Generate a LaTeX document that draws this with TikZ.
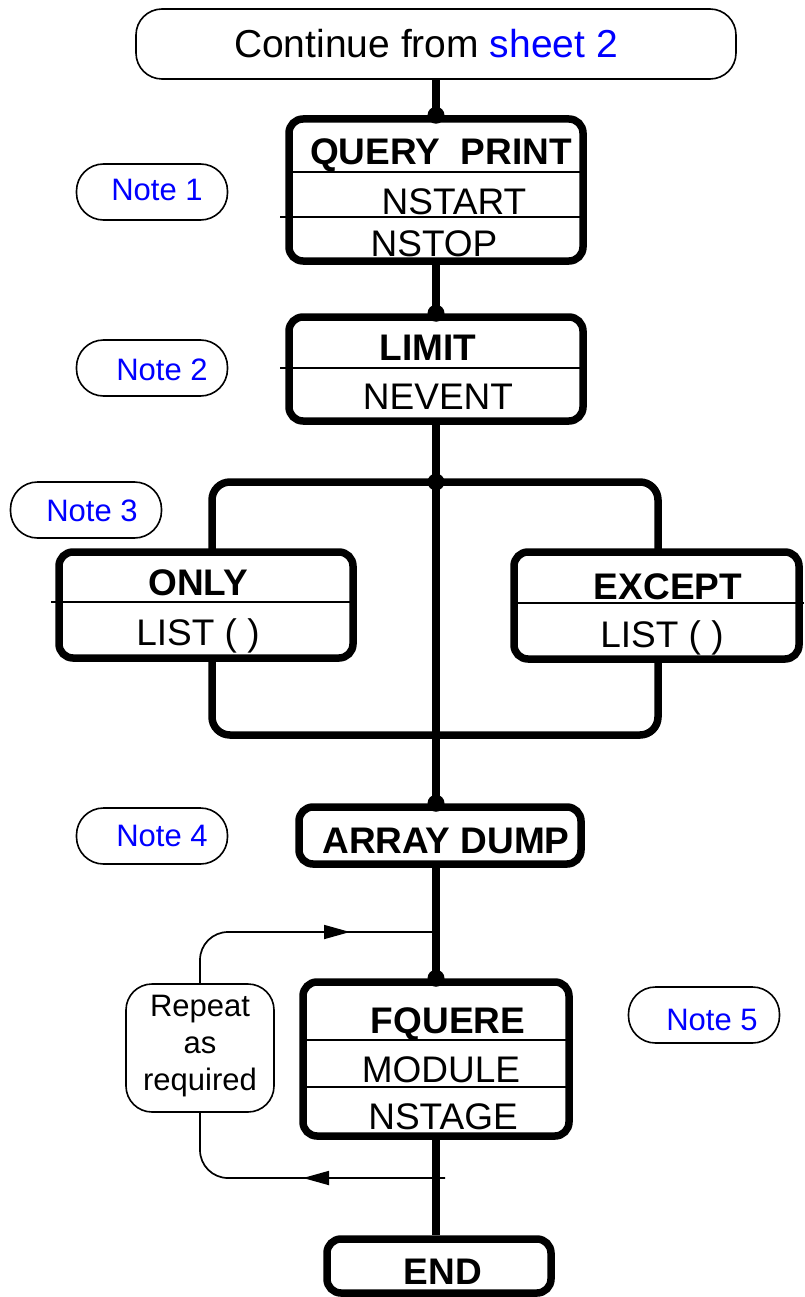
\documentclass[tikz,border=0pt]{standalone}
\usepackage{fontspec}
\setmainfont{Liberation Sans}
\usetikzlibrary{arrows.meta,decorations.markings,calc}
\begin{document}
\begin{tikzpicture}[x=1pt,y=-1pt,
  flowbox/.style={draw, line width=7.5pt, rounded corners=14pt, fill=white, inner sep=0pt},
  termbox/.style={draw, line width=1.6pt, rounded corners=26pt, fill=white, inner sep=0pt},
  notebox/.style={draw, line width=1.6pt, rounded corners=27pt, inner sep=0pt,
                  minimum width=151pt, minimum height=56pt},
  bigtxt/.style={inner sep=0pt, font=\fontsize{37}{40}\selectfont},
  boldtxt/.style={inner sep=0pt, font=\fontsize{37}{40}\selectfont\bfseries},
  notetxt/.style={inner sep=0pt, text=blue, font=\fontsize{31}{34}\selectfont},
  divider/.style={line width=1.6pt},
  trunk/.style={line width=7.5pt},
  joint/.style={circle, fill=black, inner sep=0pt, minimum size=17pt},
  thinflow/.style={line width=1.7pt, rounded corners=28pt},
  tipat/.style={postaction=decorate, decoration={markings,
      mark=at position #1 with {\arrow{Triangle[length=26pt,width=14pt]}}}}
]
\useasboundingbox (0,0) rectangle (804,1297);

% ---- start terminator ----
\node[termbox, minimum width=600pt, minimum height=70pt] (start) at (436,44) {};
\node[inner sep=0pt, font=\fontsize{39}{42}\selectfont] (starttxt) at (426,44)
  {Continue from \textcolor{blue}{sheet 2}};

% ---- notes ----
\node[notebox] (n1) at (152,192) {};
\node[notetxt] (n1t) at (157,190) {Note 1};
\node[notebox] (n2) at (152,368) {};
\node[notetxt] (n2t) at (162,370) {Note 2};
\node[notebox] (n3) at (86,510) {};
\node[notetxt] (n3t) at (92,511) {Note 3};
\node[notebox] (n4) at (152,836) {};
\node[notetxt] (n4t) at (162,836) {Note 4};
\node[notebox] (n5) at (704,1015) {};
\node[notetxt] (n5t) at (712,1020) {Note 5};

% ---- QUERY PRINT ----
\node[flowbox, minimum width=294pt, minimum height=142pt] (qp) at (436,190) {};
\draw[divider] (289,172) -- (583,172);
\draw[divider] (280,217) -- (583,217);
\node[boldtxt] (qpt) at (441,155) {QUERY\ \ PRINT};
\node[bigtxt] (qps) at (454,202) {NSTART};
\node[bigtxt] (qpe) at (434,244) {NSTOP};

% ---- LIMIT ----
\node[flowbox, minimum width=294pt, minimum height=104pt] (lim) at (436,369) {};
\draw[divider] (280,368) -- (583,368);
\node[boldtxt] (limt) at (428,348) {LIMIT};
\node[bigtxt] (limn) at (438,397) {NEVENT};

% ---- ONLY / EXCEPT branch loop ----
\coordinate (junction) at (436,482);
\coordinate (merge) at (436,735);
\draw[trunk, rounded corners=18pt] (junction) -| (212,600) |- (merge);
\draw[trunk, rounded corners=18pt] (junction) -| (658,600) |- (merge);

\node[flowbox, minimum width=294pt, minimum height=106pt] (only) at (206,605) {};
\draw[divider] (51,602) -- (353,602);
\node[boldtxt] (onlyt) at (198,583) {ONLY};
\node[bigtxt] (onlyl) at (198,636) {LIST ( )};

\node[flowbox, minimum width=285pt, minimum height=107pt] (exc) at (656.5,605.5) {};
\draw[divider] (514,603) -- (804,603);
\node[boldtxt] (exct) at (668,587) {EXCEPT};
\node[bigtxt] (excl) at (662,638) {LIST ( )};

% ---- ARRAY DUMP ----
\node[flowbox, minimum width=282pt, minimum height=57pt] (ad) at (440,835.5) {};
\node[boldtxt] (adt) at (446,841) {ARRAY DUMP};

% ---- FQUERE ----
\node[flowbox, minimum width=266pt, minimum height=154pt] (fq) at (436,1059) {};
\draw[divider] (303,1040) -- (569,1040);
\draw[divider] (303,1087) -- (569,1087);
\node[boldtxt] (fqt) at (448,1024) {FQUERE};
\node[bigtxt] (fqm) at (441,1070) {MODULE};
\node[bigtxt] (fqs) at (443,1117) {NSTAGE};

% ---- END ----
\node[flowbox, minimum width=224pt, minimum height=54pt] (fin) at (439,1266) {};
\node[boldtxt] (fint) at (443,1272) {END};

% ---- repeat loop ----
\node[draw, line width=1.6pt, rounded corners=26pt, inner sep=0pt,
      minimum width=148pt, minimum height=128pt] (rep) at (200,1048) {};
\node[inner sep=0pt, align=center, font=\fontsize{31}{37}\selectfont] (rept) at (200,1046)
  {Repeat\\as\\required};
\coordinate (tapin) at (436,932);
\coordinate (tapout) at (445,1178);
\draw[thinflow, tipat=-86pt] (rep.north) |- (tapin);
\draw[thinflow, tipat=142pt] (tapout) -| (rep.south);

% ---- main trunk (kept vertical on x = 436) ----
\coordinate (adtop) at (lim.south |- ad.north);
\coordinate (fintop) at (fq.south |- fin.north);
\draw[trunk] (start) -- (qp);
\draw[trunk] (qp) -- (lim);
\draw[trunk] (lim) -- (adtop);
\draw[trunk] (ad.south -| fq.north) -- (fq);
\draw[trunk] (fq) -- (fintop);

% ---- junction dots ----
\node[joint] (d1) at (qp.north) {};
\node[joint] (d2) at (lim.north) {};
\node[joint] (d3) at (junction) {};
\node[joint] (d4) at (adtop) {};
\node[joint] (d5) at (fq.north) {};
\end{tikzpicture}
\end{document}
